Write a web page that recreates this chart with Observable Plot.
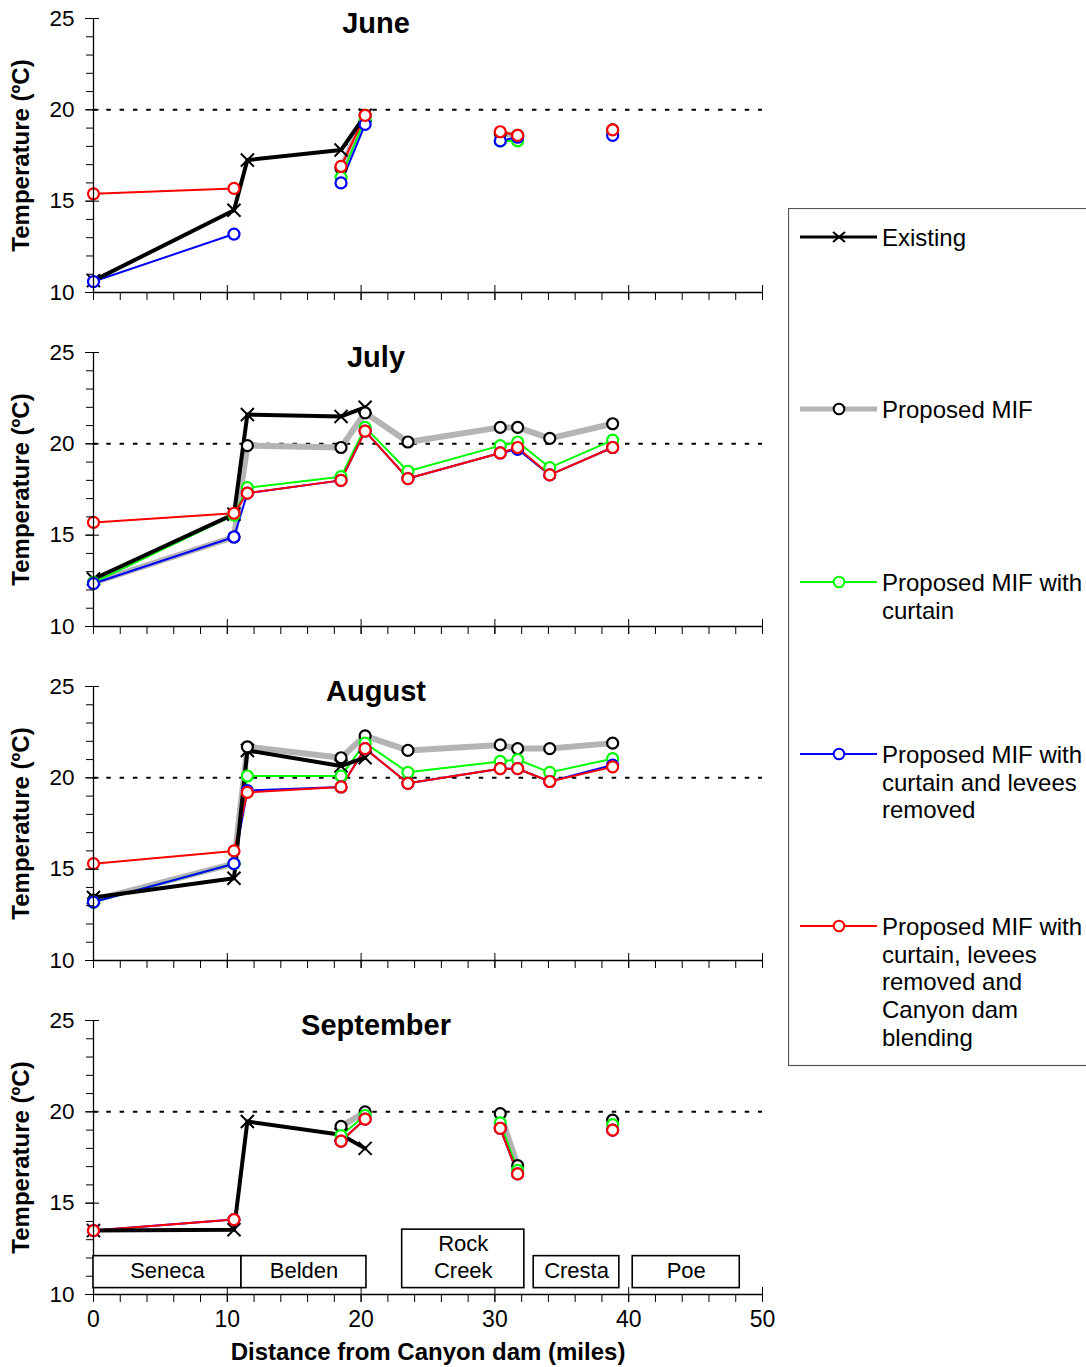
<!DOCTYPE html>
<html><head><meta charset="utf-8">
<script src="https://cdn.jsdelivr.net/npm/d3@7"></script>
<script src="https://cdn.jsdelivr.net/npm/@observablehq/plot@0.6"></script>
<style>
body{margin:0;background:#fff;}
#wrap{position:relative;width:1086px;height:1367px;overflow:hidden;background:#fff;font-family:"Liberation Sans",Arial,sans-serif;}
.panel{position:absolute;left:0;}
#legend{position:absolute;left:788px;top:208px;}
</style></head><body><div id="wrap"></div>
<script>
// ---- data ----
const months = ["June", "July", "August", "September"];
const sites = [0, 10.5, 11.5, 18.5, 20.3, 23.5, 30.4, 31.7, 34.1, 38.8]; // miles from Canyon dam
const xTicks = [0, 10, 20, 30, 40, 50];
const yTicks = [10, 15, 20, 25];
const seriesNames = ["Existing", "Proposed MIF", "Proposed MIF with\ncurtain",
  "Proposed MIF with\ncurtain and levees\nremoved",
  "Proposed MIF with\ncurtain, levees\nremoved and\nCanyon dam\nblending"];
const N = null;
// per month (June, July, August, September), values at each site
const existingT = [
  [10.65, 14.5, 17.25, 17.8, 19.7, N, N, N, N, N],
  [12.6, 16.15, 21.6, 21.5, 22.0, N, N, N, N, N],
  [13.45, 14.5, 21.5, 20.65, 21.1, N, N, N, N, N],
  [13.5, 13.55, 19.47, 18.75, 18.0, N, N, N, N, N]
];
const proposedT = [
  [N, N, N, 16.8, 19.7, N, 18.7, 18.6, N, 18.9],
  [12.4, 14.9, 19.9, 19.8, 21.7, 20.1, 20.9, 20.9, 20.3, 21.1],
  [13.3, 15.3, 21.7, 21.1, 22.3, 21.5, 21.8, 21.6, 21.6, 21.9],
  [N, N, N, 19.2, 20.0, N, 19.9, 17.05, N, 19.55]
];
const curtainT = [
  [N, N, N, 16.3, 19.5, N, 18.3, 18.3, N, 18.7],
  [12.4, 16.1, 17.6, 18.2, 20.9, 18.5, 19.9, 20.1, 18.7, 20.2],
  [13.2, 15.3, 20.1, 20.1, 21.9, 20.3, 20.9, 21.0, 20.3, 21.05],
  [N, N, N, 18.7, 19.8, N, 19.4, 16.8, N, 19.3]
];
const leveesT = [
  [10.6, 13.2, N, 16.0, 19.2, N, 18.3, 18.5, N, 18.6],
  [12.35, 14.9, 17.3, 18.0, 20.7, 18.1, 19.5, 19.7, 18.3, 19.8],
  [13.2, 15.3, 19.3, 19.5, 21.6, 19.7, 20.5, 20.5, 19.8, 20.7],
  [13.5, 14.1, N, 18.4, 19.6, N, 19.1, 16.6, N, 19.0]
];
const blendingT = [
  [15.4, 15.7, N, 16.9, 19.7, N, 18.8, 18.6, N, 18.9],
  [15.7, 16.2, 17.3, 18.0, 20.7, 18.1, 19.5, 19.8, 18.3, 19.8],
  [15.3, 16.0, 19.2, 19.5, 21.6, 19.7, 20.5, 20.5, 19.8, 20.6],
  [13.5, 14.1, N, 18.4, 19.6, N, 19.1, 16.6, N, 19.0]
];
const reachNames = ["Seneca", "Belden", "Rock\nCreek", "Cresta", "Poe"];
const reachStart = [0, 11.06, 23.07, 32.9, 40.3];
const reachEnd = [11.06, 20.4, 32.2, 39.3, 48.3];

// ---- drawing ----
const FONT = '"Liberation Sans", Arial, Helvetica, sans-serif';
const wrap = document.getElementById("wrap");

function panel(mi) {
  const last = mi === 3;
  const rows = (arr) => sites.map((x, i) => ({x, y: arr[mi][i]}));
  const ex = rows(existingT), gr = rows(proposedT), gn = rows(curtainT), bl = rows(leveesT), rd = rows(blendingT);
  const reaches = reachNames.map((name, i) => ({name, x1: reachStart[i], x2: reachEnd[i], tall: name.includes("\n")}));
  const circ = (data, color) => Plot.dot(data, {x: "x", y: "y", r: 5.5, fill: "white", stroke: color, strokeWidth: 2.2});
  const ln = (data, color, w) => Plot.line(data, {x: "x", y: "y", stroke: color, strokeWidth: w});
  const marks = [
    Plot.ruleY([20], {stroke: "black", strokeWidth: 2, strokeDasharray: "4.5,8.8"}),
    ln(gr, "#b4b4b4", 6),
    ln(gn, "#00ff00", 2),
    ln(bl, "#0000ff", 2),
    ln(rd, "#ff0000", 2),
    ln(ex, "black", 4),
    Plot.dot(ex, {x: "x", y: "y", symbol: "times", r: 6, stroke: "black", strokeWidth: 2}),
    circ(gr, "black"), circ(gn, "#00ff00"), circ(bl, "#0000ff"), circ(rd, "#ff0000"),
    Plot.ruleX([0], {stroke: "black", strokeWidth: 1.3}),
    Plot.ruleY([10], {stroke: "black", strokeWidth: 1.3}),
    Plot.axisY({ticks: d3.range(10, 26), tickSize: 7, tickFormat: () => "", label: null}),
    Plot.axisY({ticks: yTicks, tickSize: 8, tickPadding: 11, fontSize: 22.5, label: null, tickFormat: d => String(d)}),
    Plot.axisY({ticks: yTicks, tickSize: -6, tickFormat: () => "", label: null}),
    Plot.axisX({ticks: d3.range(0, 51, 2), tickSize: 8, tickFormat: () => "", label: null}),
    Plot.axisX({ticks: xTicks, tickSize: 8, tickPadding: 8, fontSize: 23, label: null,
      tickFormat: last ? (d => String(d)) : (() => "")}),
    Plot.axisX({ticks: xTicks, tickSize: -7, tickFormat: () => "", label: null}),
    Plot.text([months[mi]], {text: d => d, frameAnchor: "top", dx: -52, dy: 5, lineAnchor: "middle",
      fontSize: 29, fontWeight: "bold"}),
    Plot.text(["Temperature (ºC)"], {text: d => d, frameAnchor: "left", textAnchor: "middle", rotate: -90, dx: -72,
      fontSize: 24, fontWeight: "bold"})
  ];
  if (last) {
    marks.push(
      Plot.rect(reaches, {x1: "x1", x2: "x2", y1: 10.35, y2: d => d.tall ? 13.55 : 12.1,
        fill: "white", stroke: "black", strokeWidth: 1.6}),
      Plot.text(reaches, {x: d => (d.x1 + d.x2) / 2, y: d => d.tall ? 12.12 : 11.38, text: "name",
        fontSize: 22, lineHeight: 1.22}),
      Plot.text(["Distance from Canyon dam (miles)"], {text: d => d, frameAnchor: "bottom", dy: 58,
        lineAnchor: "middle", fontSize: 24, fontWeight: "bold"})
    );
  }
  const chart = Plot.plot({
    width: 780,
    height: last ? 365 : 334,
    marginLeft: 93, marginRight: 18, marginTop: 18, marginBottom: last ? 73 : 42,
    x: {domain: [0, 50]},
    y: {domain: [10, 25]},
    style: {fontFamily: FONT, background: "white", color: "black", overflow: "visible"},
    marks
  });
  const d = document.createElement("div");
  d.className = "panel";
  d.style.top = (mi * 334) + "px";
  d.appendChild(chart);
  wrap.appendChild(d);
}
months.forEach((m, i) => panel(i));

// ---- legend ----
const legendColors = ["black", "#b4b4b4", "#00ff00", "#0000ff", "#ff0000"];
const legendY = [29, 201, 374, 546, 718];
const ns = "http://www.w3.org/2000/svg";
const lsvg = document.createElementNS(ns, "svg");
lsvg.setAttribute("width", 300); lsvg.setAttribute("height", 860);
lsvg.setAttribute("id", "legend");
lsvg.style.fontFamily = FONT;
function el(tag, attrs, parent) {
  const e = document.createElementNS(ns, tag);
  for (const k in attrs) e.setAttribute(k, attrs[k]);
  (parent || lsvg).appendChild(e);
  return e;
}
el("rect", {x: 0.5, y: 0.5, width: 330, height: 857, fill: "white", stroke: "#555", "stroke-width": 1.2});
seriesNames.forEach((name, i) => {
  const y = legendY[i];
  el("line", {x1: 12, x2: 89, y1: y, y2: y, stroke: legendColors[i],
    "stroke-width": i === 0 ? 3 : i === 1 ? 5 : 2});
  if (i === 0) {
    el("path", {d: `M${51 - 6},${y - 5}L${51 + 6},${y + 5}M${51 - 6},${y + 5}L${51 + 6},${y - 5}`,
      stroke: "black", "stroke-width": 2, fill: "none"});
  } else {
    el("circle", {cx: 51, cy: y, r: 5.3, fill: "white", stroke: i === 1 ? "black" : legendColors[i], "stroke-width": 2});
  }
  const t = el("text", {x: 94, y: y + 9, "font-size": 24, fill: "black"});
  name.split("\n").forEach((line, j) => {
    const ts = el("tspan", {x: 94, dy: j === 0 ? 0 : 27.7}, t);
    ts.textContent = line;
  });
});
wrap.appendChild(lsvg);
</script>
</body></html>
